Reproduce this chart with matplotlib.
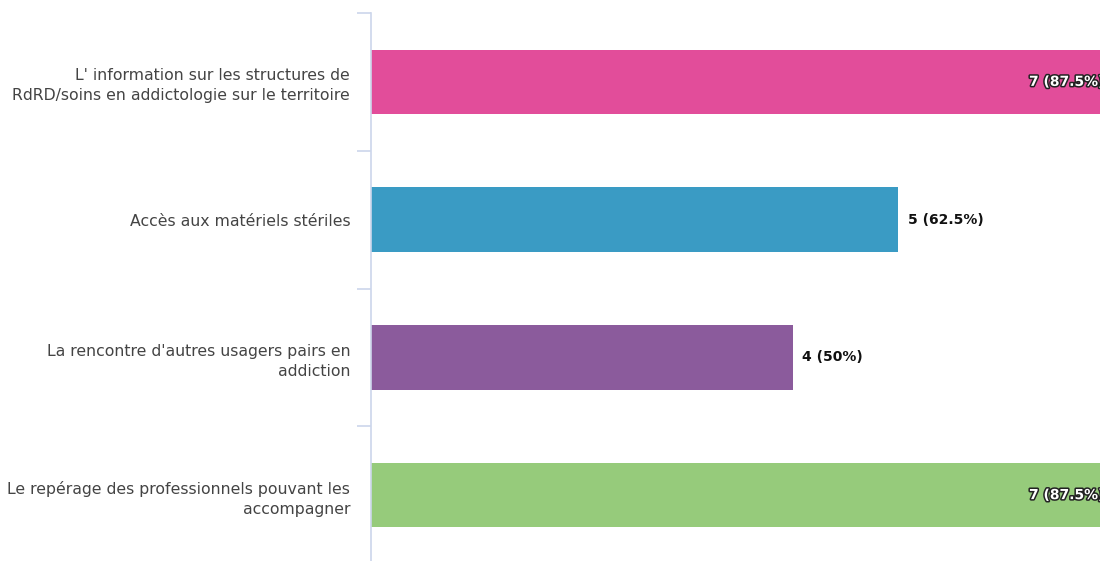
import matplotlib
matplotlib.use("Agg")
import matplotlib.pyplot as plt
import matplotlib.patheffects as pe

categories = [
    "L' information sur les structures de\nRdRD/soins en addictologie sur le territoire",
    "Accès aux matériels stériles",
    "La rencontre d'autres usagers pairs en\naddiction",
    "Le repérage des professionnels pouvant les\naccompagner",
]
values = [7, 5, 4, 7]
percents = ["87.5%", "62.5%", "50%", "87.5%"]
colors = ["#E24D9A", "#3A9BC4", "#8B5B9C", "#96CB7B"]

W, H = 1100, 561
fig = plt.figure(figsize=(W / 100, H / 100), dpi=100)
left, right, top, bottom = 371, 1100, 13, 564
ax = fig.add_axes([left / W, 1 - bottom / H, (right - left) / W, (bottom - top) / H])

ypos = list(range(len(categories)))
ax.barh(ypos, values, height=0.47, color=colors, zorder=2)
ax.set_ylim(len(categories) - 0.5, -0.5)
ax.set_xlim(0, (right - left) / 105.4)

for s in ["top", "right", "bottom"]:
    ax.spines[s].set_visible(False)
ax.spines["left"].set_color("#ccd6eb")
ax.spines["left"].set_linewidth(1.2)
ax.set_xticks([])
ax.set_yticks([i - 0.5 for i in range(len(categories) + 1)])
ax.set_yticklabels([])
ax.set_yticks(ypos, minor=True)
ax.set_yticklabels(categories, minor=True, fontsize=11.3, color="#444444",
                   linespacing=1.42, family="DejaVu Sans")
ax.tick_params(axis="y", which="major", length=10, color="#ccd6eb", width=1.2)
ax.tick_params(axis="y", which="minor", length=0, pad=15)
for lbl in ax.get_yticklabels(minor=True):
    lbl.set_horizontalalignment("right")

xmax = ax.get_xlim()[1]
for y, v, p in zip(ypos, values, percents):
    txt = f"{v} ({p})"
    if v > xmax - 1:
        ax.annotate(txt, (v, y), xytext=(-3, 0), textcoords="offset points",
                    ha="right", va="center", fontsize=10, fontweight="bold",
                    color="white", annotation_clip=False,
                    path_effects=[pe.withStroke(linewidth=2.2, foreground="#222222")])
    else:
        ax.annotate(txt, (v, y), xytext=(7, 0), textcoords="offset points",
                    ha="left", va="center", fontsize=10, fontweight="bold",
                    color="#111111")

fig.savefig("out.png", dpi=100)
